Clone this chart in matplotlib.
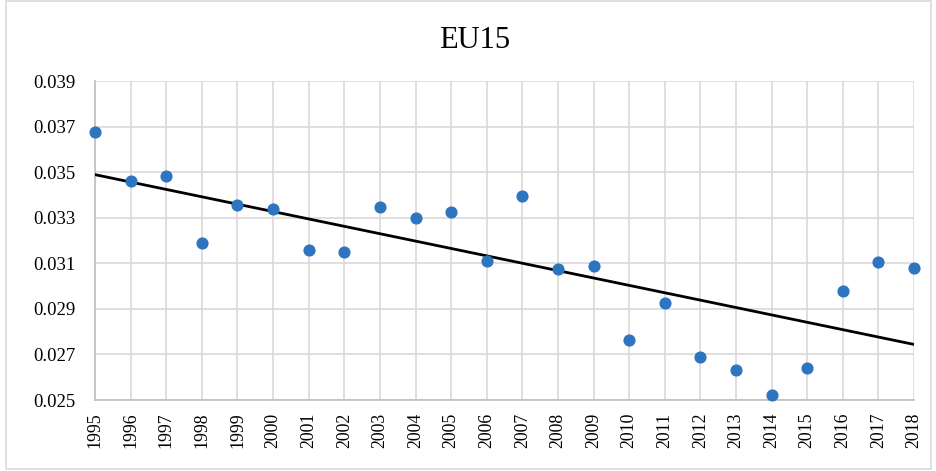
import matplotlib.pyplot as plt
import numpy as np
from matplotlib.patches import Rectangle

years = np.arange(1995, 2019)
values = [0.03676, 0.03461, 0.03483, 0.03189, 0.03356, 0.03339, 0.03159, 0.03150,
          0.03347, 0.03299, 0.03325, 0.03111, 0.03396, 0.03075, 0.03089, 0.02764,
          0.02926, 0.02690, 0.02632, 0.02523, 0.02641, 0.02979, 0.03106, 0.03080]
y_ticks = [0.025, 0.027, 0.029, 0.031, 0.033, 0.035, 0.037, 0.039]

plt.rcParams['font.family'] = ['Liberation Serif', 'DejaVu Serif']

fig = plt.figure(figsize=(9.37, 4.71), dpi=100)
ax = fig.add_axes([0.1014, 0.1507, 0.8741, 0.6773])

# linear trend line
slope, intercept = np.polyfit(years, values, 1)
ax.plot(years, slope * years + intercept, color='black', lw=2, zorder=3)
ax.scatter(years, values, s=60, color='#2E75C0', zorder=4, clip_on=False)

ax.set_xlim(1995, 2018)
ax.set_ylim(0.025, 0.039)
ax.set_xticks(years)
ax.set_xticklabels([str(y) for y in years], rotation=90)
ax.set_yticks(y_ticks)
ax.set_yticklabels(['%.3f' % v for v in y_ticks])
ax.tick_params(axis='both', length=0, colors='black')
ax.tick_params(axis='y', labelsize=13.5, pad=14)
ax.tick_params(axis='x', labelsize=12.8, pad=9)
ax.grid(True, color='#d9d9d9', lw=1.2)
ax.set_axisbelow(True)
for s in ['top', 'right']:
    ax.spines[s].set_visible(False)
for s in ['left', 'bottom']:
    ax.spines[s].set_color('#bfbfbf')
    ax.spines[s].set_linewidth(1.2)

fig.text(0.507, 0.915, 'EU15', ha='center', va='center', fontsize=22)

# outer chart border
fig.patches.append(Rectangle((0.006, 0.004), 0.988, 0.994, transform=fig.transFigure,
                             fill=False, edgecolor='#d9d9d9', lw=1.2))

fig.savefig('out.png', dpi=100)
